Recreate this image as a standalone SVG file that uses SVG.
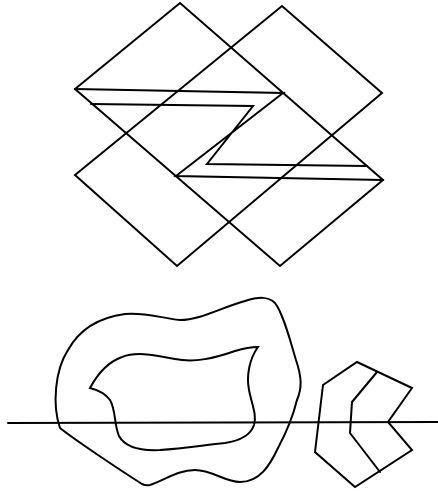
<svg xmlns="http://www.w3.org/2000/svg" width="438" height="491" viewBox="0 0 438 491">
<style>
.s{fill:none;stroke:#000;stroke-width:2;stroke-linejoin:miter;stroke-linecap:round}
</style>
<rect width="438" height="491" fill="#fff"/>
<g id="diamonds">
<path class="s" d="M75,89 L180,3 L383,180 L280,266 L75,89 Z"/>
<path class="s" d="M75,175 L282,6 L382,93 L177,266 L75,175 Z"/>
</g>
<g id="zshape">
<path class="s" d="M75,89 L283,93 L176,176 L383,180 M91,104 L253,106 L207,164 L367,166"/>
</g>
<g id="outer-blob">
<path class="s" d="M60,428 C52,405 55,370 68,350 C78,332 95,318 125,314 C145,312 160,318 180,320 C200,320 220,308 245,301 C258,297 268,296 275,303 C283,313 290,340 296,360 C302,378 302,388 297,400 C292,420 285,435 278,448 C270,465 260,482 240,482 C225,482 212,470 195,470 C178,470 165,480 150,485 C146,486 144,485 142,484 C120,470 75,440 60,428 Z"/>
</g>
<g id="inner-blob">
<path class="s" d="M90,388 C97,375 108,362 122,357 C135,352 150,354 175,359 C195,363 215,358 235,351 C245,348 252,347 258,347 C250,358 246,375 249,390 C252,405 257,415 254,425 C250,437 238,441 225,443 C205,445 185,448 160,450 C140,451 125,447 119,436 C114,425 116,410 110,400 C105,393 98,390 90,388 Z"/>
</g>
<g id="chevron">
<path class="s" d="M323,385 L357,362 L412,388 L388,422 L412,450 L355,487 L315,452 Z M377,372 L352,402 L350,433 L380,472"/>
</g>
<g id="connectors">
<line class="s" x1="8" y1="423" x2="438" y2="422"/>
</g>
</svg>
